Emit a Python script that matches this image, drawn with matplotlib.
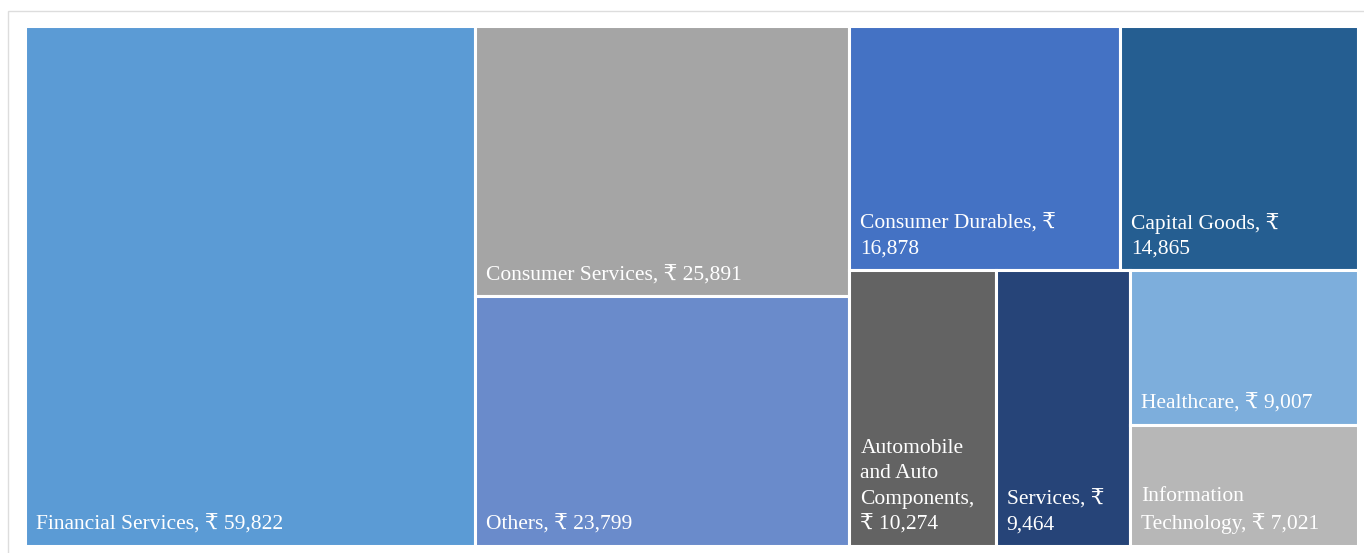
import matplotlib
matplotlib.use("Agg")
import matplotlib.pyplot as plt
from matplotlib.patches import Rectangle

# sector values (Rs crore)
sectors = ["Financial Services", "Consumer Services", "Others", "Consumer Durables",
           "Capital Goods", "Automobile and Auto Components", "Services",
           "Healthcare", "Information Technology"]
values = [59822, 25891, 23799, 16878, 14865, 10274, 9464, 9007, 7021]
# label text as wrapped inside each tile
labels = ["Financial Services, ₹ 59,822",
          "Consumer Services, ₹ 25,891",
          "Others, ₹ 23,799",
          "Consumer Durables, ₹\n16,878",
          "Capital Goods, ₹\n14,865",
          "Automobile\nand Auto\nComponents,\n₹ 10,274",
          "Services, ₹\n9,464",
          "Healthcare, ₹ 9,007",
          "Information\nTechnology, ₹ 7,021"]
colors = ["#5B9BD5", "#A5A5A5", "#6A8BCB", "#4472C4", "#255E91",
          "#636363", "#264478", "#7DAEDC", "#B7B7B7"]
# which tiles share a strip (squarified style)
groups = [[0], [1, 2], [3, 4], [5], [6], [7], [8]]


def layout(vals, groups, x, y, w, h):
    rects = [None] * len(vals)
    total = float(sum(vals))
    for g in groups:
        gsum = sum(vals[i] for i in g)
        frac = gsum / total
        if w >= h:
            # vertical strip on the left, items stacked top->bottom
            sw = w * frac
            cy = y
            for i in g:
                ih = h * vals[i] / gsum
                rects[i] = (x, cy, sw, ih)
                cy += ih
            x += sw
            w -= sw
        else:
            # horizontal strip on top, items side by side
            sh = h * frac
            cx = x
            for i in g:
                iw = w * vals[i] / gsum
                rects[i] = (cx, y, iw, sh)
                cx += iw
            y += sh
            h -= sh
        total -= gsum
    return rects


W, H = 1364, 553
fig = plt.figure(figsize=(W / 100, H / 100), dpi=100)
ax = fig.add_axes([0, 0, 1, 1])
ax.set_xlim(0, W)
ax.set_ylim(H, 0)
ax.axis("off")

# light chart border
ax.add_patch(Rectangle((8, 11), W + 10, H, facecolor="white",
                       edgecolor="#DDDDDD", lw=1))

rects = layout(values, groups, 24.5, 25.5, 1333.5, 520)
fam = ["Liberation Serif", "DejaVu Serif", "DejaVu Sans"]
for (rx, ry, rw, rh), lab, c in zip(rects, labels, colors):
    ax.add_patch(Rectangle((rx, ry), rw, rh, facecolor=c, edgecolor="white", lw=2.2))
    ax.text(rx + 11, ry + rh - 11, lab, color="white", fontsize=15.5,
            family=fam, ha="left", va="bottom", linespacing=1.45)

fig.savefig("out.png", dpi=100)
